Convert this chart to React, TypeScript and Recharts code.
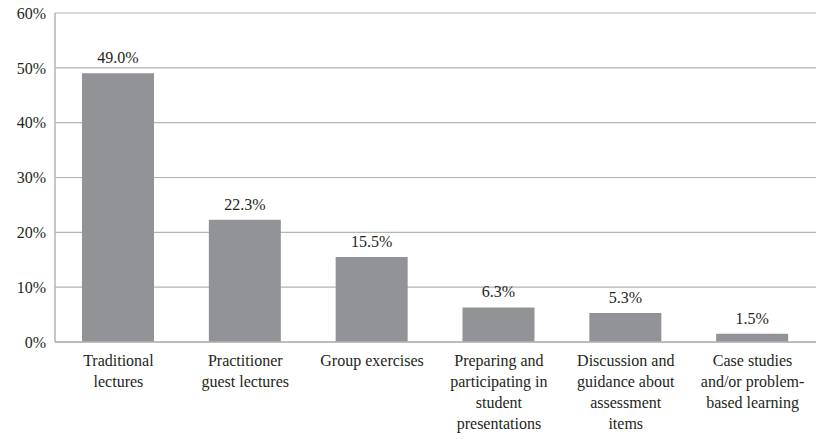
import { BarChart, Bar, XAxis, YAxis, CartesianGrid, LabelList } from 'recharts'

const categories = [
  'Traditional|lectures',
  'Practitioner|guest lectures',
  'Group exercises',
  'Preparing and|participating in|student|presentations',
  'Discussion and|guidance about|assessment|items',
  'Case studies|and/or problem-|based learning',
]
const shares = [49.0, 22.3, 15.5, 6.3, 5.3, 1.5]
const yTicks = [0, 10, 20, 30, 40, 50, 60]

const data = categories.map((c, i) => ({ name: c, value: shares[i] }))

const FONT = "'Liberation Serif', 'DejaVu Serif', serif"
const INK = '#231f20'
const GRID = '#b3b3b3'

const CatTick = (props: any) => {
  const { x, y, payload } = props
  const lines = String(payload.value).split('|')
  return (
    <text x={x} y={y} textAnchor="middle" fontFamily={FONT} fontSize={16} fill={INK}>
      {lines.map((l, i) => (
        <tspan key={i} x={x} dy={i === 0 ? 16 : 21}>{l}</tspan>
      ))}
    </text>
  )
}

export default function App() {
  return (
    <div style={{ position: 'absolute', left: 0, top: 0, width: 816, height: 439, background: '#fff', fontFamily: FONT }}>
      <style>{'body{margin:0;overflow:hidden} .recharts-wrapper, .recharts-wrapper text { font-family: ' + FONT + ' !important; }'}</style>
      <BarChart width={816} height={439} data={data}
        margin={{ top: 13, right: 0, left: 0, bottom: 0 }}>
        <CartesianGrid vertical={false} stroke={GRID} strokeWidth={1.2} />
        <XAxis dataKey="name" interval={0} tick={<CatTick />} tickLine={false}
          axisLine={{ stroke: GRID, strokeWidth: 1.5 }} height={97} />
        <YAxis domain={[0, 60]} ticks={yTicks} width={55} tickLine={false} tickSize={0} tickMargin={9}
          tickFormatter={(v: number) => `${v}%`}
          tick={{ fontFamily: FONT, fontSize: 16, fill: INK }}
          axisLine={{ stroke: GRID, strokeWidth: 1.5 }} />
        <Bar dataKey="value" fill="#929396" barSize={72} isAnimationActive={false}>
          <LabelList dataKey="value" position="top" offset={10}
            formatter={(v: any) => `${Number(v).toFixed(1)}%`}
            fontFamily={FONT} fontSize={16} fill={INK} />
        </Bar>
      </BarChart>
    </div>
  )
}
